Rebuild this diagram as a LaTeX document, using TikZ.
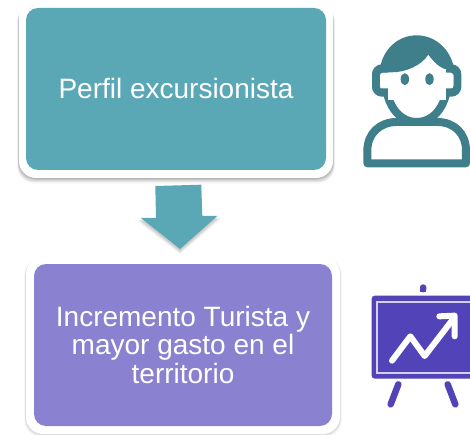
\documentclass[tikz,border=0pt]{standalone}
\usepackage{fontspec}
\setmainfont{Liberation Sans}
\definecolor{tealbox}{HTML}{5AA8B6}
\definecolor{violetbox}{HTML}{8B81D1}
\definecolor{iconteal}{HTML}{3F7F8C}
\definecolor{iconviolet}{HTML}{5244B8}
\tikzset{
  frame/.style={fill=white,rounded corners=17pt,draw=none},
  panel/.style={rounded corners=13pt,draw=none,minimum width=0pt,text=white,align=center,
    font=\fontsize{28}{28.5}\selectfont},
  iconzoom/.style={x=0.3333pt,y=-0.3333pt},
}
\begin{document}
\begin{tikzpicture}[x=1pt,y=-1pt]
\useasboundingbox (0,0) rectangle (470,435);
% soft shadows
\foreach \o/\g in {6/0.03,5/0.04,4/0.05,3/0.06,2/0.07,1/0.08}{
  \fill[black,opacity=\g,rounded corners=17pt] (19-\o*0.3,4) rectangle (333+\o*0.3,178+\o*0.9);
  \fill[black,opacity=\g*0.5,rounded corners=17pt] (26-\o*0.3,258) rectangle (340+\o*0.3,434+\o*0.6);
}
% top card
\fill[frame] (19,0) rectangle (333,178);
\fill[tealbox,rounded corners=12pt] (26,8) rectangle (326,170);
\node[panel] (top) at (176,88) {Perfil excursionista};
% bottom card
\fill[frame] (26,257) rectangle (340,434);
\fill[violetbox,rounded corners=12pt] (34,264) rectangle (332,426);
\node[panel] (bottom) at (183,344.5) {Incremento Turista y\\mayor gasto en el\\territorio};
% arrow shadow
\foreach \o/\g in {4/0.04,3/0.05,2/0.06,1/0.07}{
  \fill[black,opacity=\g] (141-\o,219+\o*0.5) -- (180,250+\o) -- (217+\o,217+\o*0.5) -- cycle;
}
% arrow
\fill[tealbox] (155.3,186) -- (201.3,184.7) -- (202.3,216) -- (217.3,216) -- (180,249) -- (141,218) -- (156,218) -- cycle;
% person icon
\begin{scope}[shift={(350,20)},iconzoom]
  \draw[iconteal,line width=8pt,fill=white,line join=round]
    (52,430) -- (52,392) .. controls (52,340) and (90,306) .. (140,306) -- (262,306)
    .. controls (312,306) and (348,340) .. (348,392) -- (348,430) -- cycle;
  \draw[iconteal,line width=8pt,fill=white,rounded corners=6pt]
    (78,145) rectangle (322,218);
  \draw[iconteal,line width=8pt,fill=white]
    (103,150) .. controls (103,260) and (150,306) .. (200,306)
    .. controls (250,306) and (297,260) .. (297,150) -- cycle;
  \fill[white,rounded corners=3pt] (90,158) rectangle (310,205);
  \fill[white] (115,100) rectangle (288,240);
  \fill[iconteal]
    (92,135) .. controls (105,80) and (150,46) .. (200,46)
    .. controls (250,46) and (295,80) .. (310,135) -- (310,145) -- (290,148)
    .. controls (270,145) and (250,125) .. (235,104)
    .. controls (215,135) and (170,157) .. (125,157)
    -- (92,157) -- cycle;
  \fill[iconteal] (164.5,177.5) ellipse [x radius=4.2pt,y radius=6pt];
  \fill[iconteal] (238.5,177.5) ellipse [x radius=4.2pt,y radius=6pt];
\end{scope}
% chart icon
\begin{scope}[shift={(350,275)},iconzoom]
  \fill[iconviolet,rounded corners=3pt] (65,62) rectangle (372,311);
  \fill[white!75!iconviolet] (77,79) rectangle (372,298);
  \fill[iconviolet] (83,85) rectangle (372,291);
  \fill[iconviolet,rounded corners=3pt] (210,52) -- (210,28) -- (229,28) -- (229,52) -- cycle;
  \fill[iconviolet] (210,52) rectangle (229,38);
  \draw[iconviolet,line width=6.5pt,line cap=round] (122,388) -- (145,328);
  \draw[iconviolet,line width=6.5pt,line cap=round] (316,388) -- (293,328);
  \draw[white,line width=6pt,line cap=round,line join=round]
    (126,257) -- (181,184) -- (224,243) -- (311,130);
  \draw[white,line width=6pt,line cap=round,line join=round]
    (268,124) -- (314,122) -- (314,184);
\end{scope}
\end{tikzpicture}
\end{document}
